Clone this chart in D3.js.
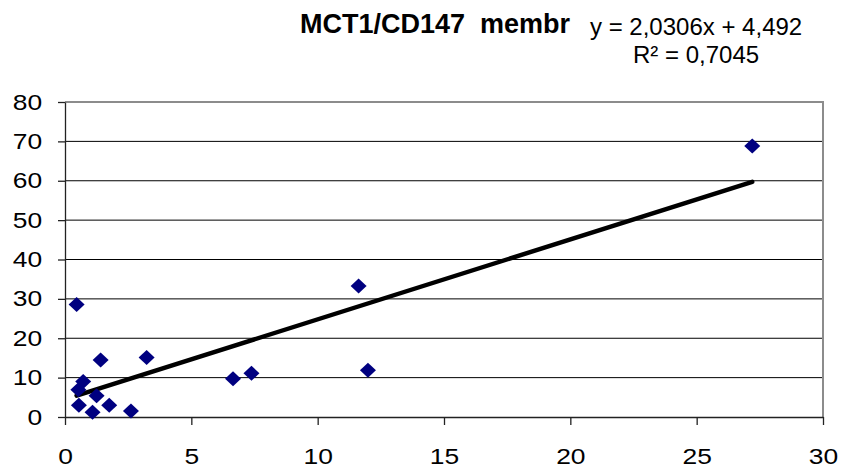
<!DOCTYPE html>
<html>
<head>
<meta charset="utf-8">
<script src="https://cdn.jsdelivr.net/npm/d3@7"></script>
<style>
  html, body { margin: 0; padding: 0; background: #fff; }
  svg { display: block; font-family: Arial, "Liberation Sans", sans-serif; }
</style>
</head>
<body>
<script>
const width = 841
const height = 468

// data
const xs = [0.46, 1.41, 3.23, 0.72, 0.53, 0.55, 1.09, 1.25, 1.75, 2.61, 6.65, 7.38, 11.62, 11.99, 27.2]
const ys = [28.6, 14.5, 15.1, 9.0, 6.9, 3.0, 1.2, 5.4, 3.0, 1.5, 9.7, 11.1, 33.3, 11.9, 68.8]
const xTicks = [0, 5, 10, 15, 20, 25, 30]
const yTicks = [0, 10, 20, 30, 40, 50, 60, 70, 80]
const slope = 2.0306
const intercept = 4.492
const title = "MCT1/CD147  membr"
const eqText = "y = 2,0306x + 4,492"
const r2Text = "R² = 0,7045"

const points = xs.map((x, i) => ({x, y: ys[i]}))

const svg = d3.select("body").append("svg")
    .attr("width", width)
    .attr("height", height)

const x = d3.scaleLinear().domain([0, 30]).range([65, 823])
const y = d3.scaleLinear().domain([0, 80]).range([417, 102])

// gridlines
svg.append("g")
  .selectAll("line")
  .data(yTicks.slice(1, -1))
  .join("line")
    .attr("x1", x(0)).attr("x2", x(30))
    .attr("y1", d => y(d)).attr("y2", d => y(d))
    .attr("stroke", "#000")
    .attr("stroke-width", 1)

// top / right frame
svg.append("path")
    .attr("d", `M${x(0)},${y(80)}H${x(30)}V${y(0)}`)
    .attr("fill", "none")
    .attr("stroke", "#8c8c8c")
    .attr("stroke-width", 2)

const fmt = d3.format("d")

const xAxis = svg.append("g")
    .attr("transform", `translate(0,${y(0)})`)
    .call(d3.axisBottom(x).tickValues(xTicks).tickFormat(fmt).tickSize(8).tickSizeOuter(0).tickPadding(23))
const yAxis = svg.append("g")
    .attr("transform", `translate(${x(0)},0)`)
    .call(d3.axisLeft(y).tickValues(yTicks).tickFormat(fmt).tickSize(7).tickSizeOuter(0).tickPadding(12))

;[xAxis, yAxis].forEach(g => {
  g.select(".domain").attr("stroke", "#222").attr("stroke-width", 1.3)
  g.selectAll(".tick line").attr("stroke", "#222").attr("stroke-width", 1.3)
  g.selectAll("text")
    .attr("fill", "#000")
    .attr("transform", "scale(1.2,1)")
    .style("font-size", "22px")
    .style("font-family", "Arial, 'Liberation Sans', sans-serif")
})

// trendline
const xMin = d3.min(xs), xMax = d3.max(xs)
svg.append("line")
    .attr("x1", x(xMin)).attr("y1", y(slope * xMin + intercept))
    .attr("x2", x(xMax)).attr("y2", y(slope * xMax + intercept))
    .attr("stroke", "#000")
    .attr("stroke-width", 4.5)
    .attr("stroke-linecap", "round")

// markers
svg.append("g")
  .selectAll("path")
  .data(points)
  .join("path")
    .attr("transform", d => `translate(${x(d.x)},${y(d.y)})`)
    .attr("d", "M0,-7.5L8,0L0,7.5L-8,0Z")
    .attr("fill", "#000080")

// title + equation
svg.append("text")
    .attr("x", 300).attr("y", 33)
    .attr("font-size", 27).attr("font-weight", "bold")
    .style("white-space", "pre")
    .attr("xml:space", "preserve")
    .text(title)
svg.append("text")
    .attr("x", 590).attr("y", 35)
    .attr("font-size", 24)
    .text(eqText)
svg.append("text")
    .attr("x", 633).attr("y", 63)
    .attr("font-size", 24)
    .text(r2Text)
</script>
</body>
</html>
